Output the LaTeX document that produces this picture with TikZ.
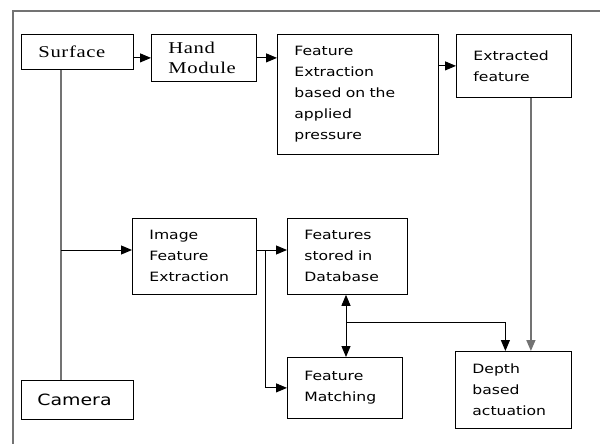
\documentclass[tikz,border=0pt]{standalone}
\usepackage{fontspec}
\usepackage{tikz}
\usetikzlibrary{arrows.meta}
\newfontfamily\blocksans[FakeStretch=1.22]{DejaVu Sans}
\newfontfamily\blockserif[FakeStretch=1.25,LetterSpace=4]{Liberation Serif}
\tikzset{
  blk/.style={draw, line width=0.8pt, anchor=north west, align=left,
    inner xsep=17pt, inner ysep=4pt,
    font=\blocksans\fontsize{12.8}{21}\selectfont},
  serifblk/.style={blk, font=\blockserif\fontsize{16.5}{20}\selectfont},
  tip/.style={-{Triangle[length=11pt,width=9pt]}},
  arr/.style={line width=0.95pt, tip},
  dblarr/.style={line width=0.95pt, {Triangle[length=11pt,width=9pt]}-{Triangle[length=11pt,width=9pt]}},
  greylink/.style={line width=1.5pt, draw=black!55}
}

\begin{document}
\begin{tikzpicture}[x=1pt, y=-1pt]
  \useasboundingbox (0,0) rectangle (600,444);
  \draw[line width=1.3pt, black!55] (13,444) -- (13,11) -- (600,11);

  % top row
  \node[serifblk, text width=78pt, minimum height=35pt] (surface) at (21,34) {Surface};
  \node[serifblk, text width=71pt, minimum height=47pt] (hand) at (151,34) {Hand\\Module};
  \node[blk, text width=127pt, minimum height=120pt] (fext) at (277,34)
    {Feature\\Extraction\\based on the\\applied\\pressure};
  \node[blk, text width=81pt, minimum height=63pt] (extr) at (456,34) {Extracted\\feature};

  % middle and bottom
  \node[blk, text width=90pt, minimum height=76pt] (imgext) at (132,218) {Image\\Feature\\Extraction};
  \node[blk, text width=86pt, minimum height=76pt] (store) at (287,218) {Features\\stored in\\Database};
  \node[blk, text width=81pt, minimum height=61pt] (match) at (287,357) {Feature\\Matching};
  \node[blk, text width=82pt, minimum height=77pt] (depth) at (455,351) {Depth\\based\\actuation};
  \node[blk, text width=80pt, inner xsep=16pt, minimum height=39pt,
    font=\blocksans\fontsize{15.5}{20}\selectfont] (camera) at (21,380) {Camera};

  \coordinate (trunk) at (61,250);
  \coordinate (fork) at (265,250);
  \coordinate (junc) at (346,322);

  \draw[arr] (surface.east |- hand.west) -- (hand.west);
  \draw[arr] (hand.east) -- (hand.east -| fext.west);
  \draw[arr] (fext.east |- extr.west) -- (extr.west);

  \draw[greylink] (surface.south -| trunk) -- (camera.north -| trunk);
  \draw[arr] (trunk) -- (trunk -| imgext.west);
  \draw[arr] (imgext.east |- trunk) -- (store.west |- trunk);
  \draw[arr] (fork) |- (match.west);

  \draw[dblarr] (store.south -| junc) -- (match.north -| junc);
  \draw[arr] (junc) -| ([xshift=-8pt]depth.north);
  \draw[greylink, tip, draw=black!55]
    ([xshift=17pt]extr.south) -- ([xshift=17pt]extr.south |- depth.north);
\end{tikzpicture}
\end{document}
